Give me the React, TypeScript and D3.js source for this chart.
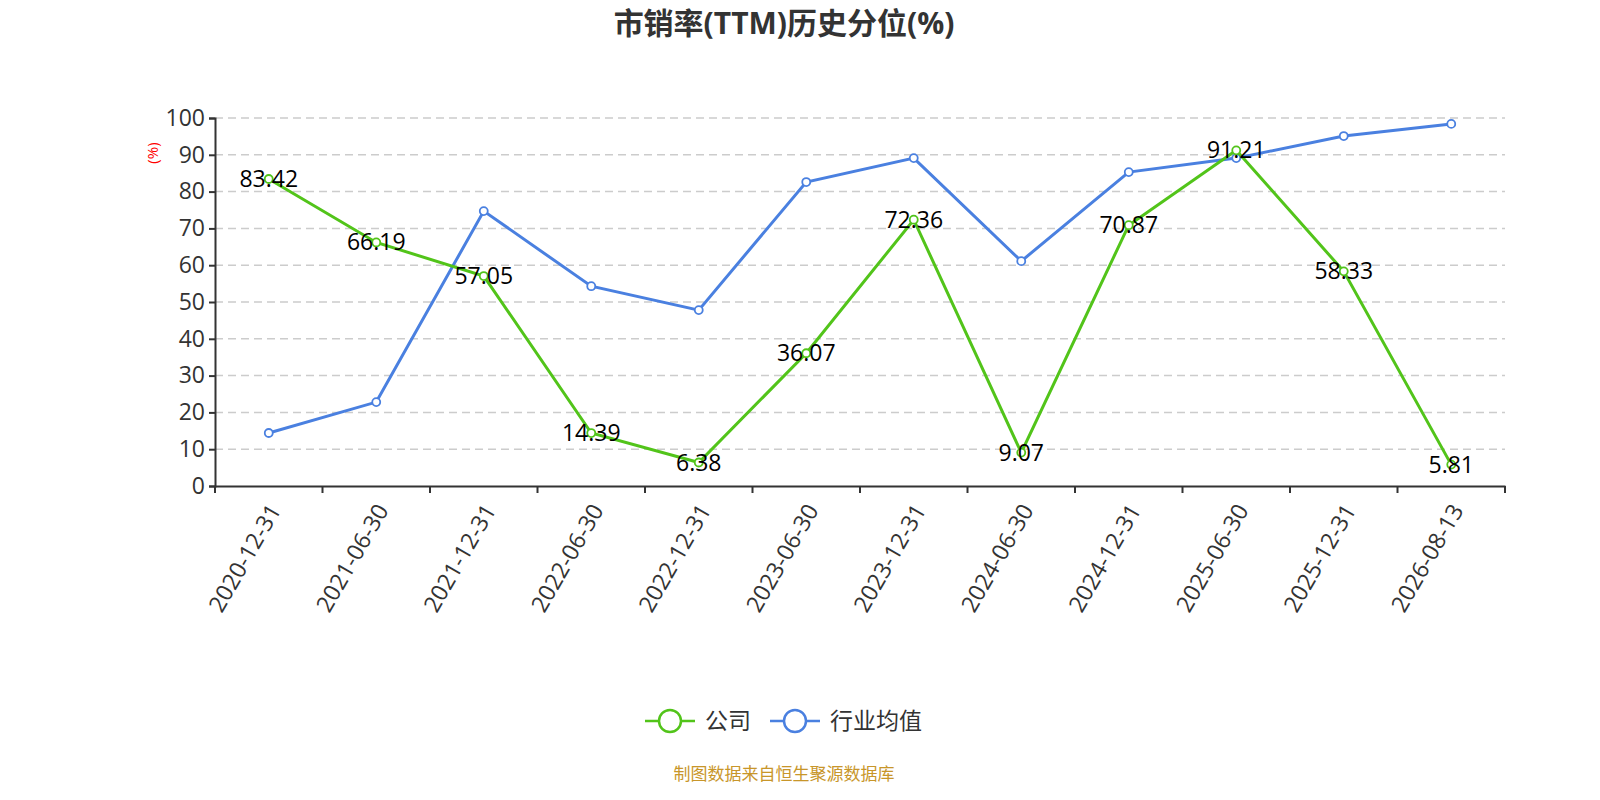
import React, { useEffect, useRef } from 'react';
import * as d3 from 'd3';

const dates = ['2020-12-31', '2021-06-30', '2021-12-31', '2022-06-30', '2022-12-31', '2023-06-30',
  '2023-12-31', '2024-06-30', '2024-12-31', '2025-06-30', '2025-12-31', '2026-08-13'];
const company = [83.42, 66.19, 57.05, 14.39, 6.38, 36.07, 72.36, 9.07, 70.87, 91.21, 58.33, 5.81];
const industry = [14.4, 22.8, 74.7, 54.3, 47.8, 82.6, 89.1, 61.1, 85.3, 89.1, 95.1, 98.4];
const yTicks = [0, 10, 20, 30, 40, 50, 60, 70, 80, 90, 100];

const FONT = '"Open Sans", "Noto Sans CJK SC", sans-serif';
const CJK = '"Noto Sans CJK SC", sans-serif';
const GREEN = '#52c41a';
const BLUE = '#4a80e0';

export default function App() {
  const svgRef = useRef(null);

  useEffect(() => {
    const w = 1600, h = 800;
    const left = 215, right = 1505, top = 118, bottom = 486;
    const svg = d3.select(svgRef.current).attr('width', w).attr('height', h).style('font-family', FONT);
    svg.selectAll('*').remove();

    const x = d3.scaleBand().domain(dates).range([left, right]);
    const y = d3.scaleLinear().domain([0, 100]).range([bottom, top]);

    // title
    svg.append('text').attr('x', 784).attr('y', 34).attr('text-anchor', 'middle')
      .style('font-size', '30px').style('font-weight', 'bold').attr('fill', '#333')
      .text('市销率(TTM)历史分位(%)');

    // grid
    svg.append('g').selectAll('line').data(yTicks.filter(d => d > 0)).join('line')
      .attr('x1', left).attr('x2', right).attr('y1', d => y(d)).attr('y2', d => y(d))
      .attr('stroke', '#ccc').attr('stroke-dasharray', '8,5').attr('stroke-width', 1.5);

    // y axis
    const ya = svg.append('g').attr('transform', `translate(${left},0)`)
      .call(d3.axisLeft(y).tickValues(yTicks).tickSize(6).tickPadding(4));
    ya.select('.domain').attr('stroke', '#333').attr('stroke-width', 2);
    ya.selectAll('.tick line').attr('stroke', '#333').attr('stroke-width', 2);
    ya.selectAll('.tick text').attr('fill', '#333').style('font-size', '23px').style('font-family', FONT);

    svg.append('text').attr('transform', 'translate(153,153) rotate(-90)').attr('text-anchor', 'middle')
      .attr('dy', '0.35em').attr('fill', 'red').style('font-size', '15px').text('(%)');

    // x axis
    const xa = svg.append('g').attr('transform', `translate(0,${bottom})`)
      .call(d3.axisBottom(x).tickSize(0).tickFormat(() => ''));
    xa.select('.domain').attr('stroke', '#333').attr('stroke-width', 2);
    const bounds = dates.map(d => x(d)).concat([right]);
    xa.selectAll('line.bound').data(bounds).join('line').attr('class', 'bound')
      .attr('x1', d => d).attr('x2', d => d).attr('y1', 0).attr('y2', 7)
      .attr('stroke', '#333').attr('stroke-width', 2);
    svg.append('g').selectAll('text').data(dates).join('text')
      .attr('transform', d => `translate(${x(d) + x.bandwidth() / 2 + 6},${bottom + 20}) rotate(-60)`)
      .attr('text-anchor', 'end').attr('dy', '0.35em').attr('fill', '#333')
      .style('font-size', '23px').text(d => d);

    const cx = (i) => x(dates[i]) + x.bandwidth() / 2;
    const line = d3.line().x((d, i) => cx(i)).y(d => y(d));

    [[industry, BLUE], [company, GREEN]].forEach(([vals, c]) => {
      svg.append('path').datum(vals).attr('d', line).attr('fill', 'none')
        .attr('stroke', c).attr('stroke-width', 3);
      svg.append('g').selectAll('circle').data(vals).join('circle')
        .attr('cx', (d, i) => cx(i)).attr('cy', d => y(d)).attr('r', 4)
        .attr('fill', '#fff').attr('stroke', c).attr('stroke-width', 1.8);
    });

    svg.append('g').selectAll('text').data(company).join('text')
      .attr('x', (d, i) => cx(i)).attr('y', d => y(d)).attr('dy', '0.35em')
      .attr('text-anchor', 'middle').attr('fill', '#000').style('font-size', '23px')
      .text(d => d.toFixed(2));

    // legend
    const legend = [['公司', GREEN, 645], ['行业均值', BLUE, 770]];
    legend.forEach(([name, c, lx]) => {
      const g = svg.append('g').attr('transform', `translate(${lx},721)`);
      g.append('line').attr('x1', 0).attr('x2', 50).attr('stroke', c).attr('stroke-width', 2.5);
      g.append('circle').attr('cx', 25).attr('r', 11).attr('fill', '#fff').attr('stroke', c).attr('stroke-width', 2.5);
      g.append('text').attr('x', 60).attr('dy', '0.35em').attr('fill', '#333')
        .style('font-size', '23px').style('font-family', CJK).text(name);
    });

    svg.append('text').attr('x', 784).attr('y', 780).attr('text-anchor', 'middle')
      .attr('fill', '#c8962a').style('font-size', '17px').style('font-family', CJK).text('制图数据来自恒生聚源数据库');
  }, []);

  return <div style={{ position: 'fixed', left: 0, top: 0, width: 1600, height: 800, overflow: 'hidden', background: '#fff' }}>
    <svg ref={svgRef} style={{ display: 'block' }} />
  </div>;
}
